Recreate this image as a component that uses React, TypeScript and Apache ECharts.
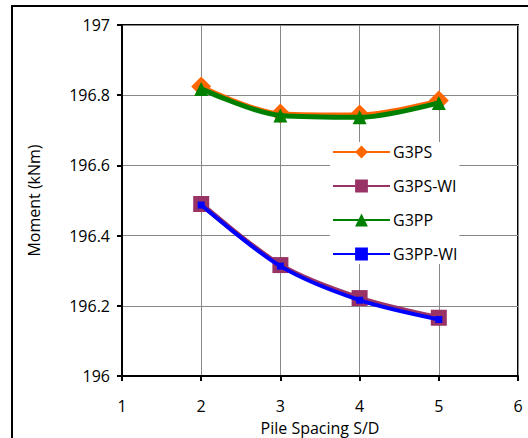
import React, { useEffect, useRef } from "react";
import * as echarts from "echarts";

const xValues = [2, 3, 4, 5];
const g3ps = [196.825, 196.748, 196.745, 196.785];
const g3psWi = [196.49, 196.316, 196.222, 196.166];
const g3pp = [196.818, 196.742, 196.737, 196.778];
const g3ppWi = [196.487, 196.313, 196.216, 196.161];
const seriesNames = ["G3PS", "G3PS-WI", "G3PP", "G3PP-WI"];

const font = "'Open Sans', 'Noto Sans', sans-serif";

export default function App() {
  const ref = useRef<HTMLDivElement>(null);
  useEffect(() => {
    const chart = echarts.init(ref.current!, null, { renderer: "svg" });
    const pts = (ys: number[]) => xValues.map((x, i) => [x, ys[i]]);
    chart.setOption({
      animation: false,
      backgroundColor: "#fff",
      textStyle: { fontFamily: font },
      graphic: [
        {
          type: "rect",
          shape: { x: 12, y: 6, width: 530, height: 450 },
          style: { fill: "none", stroke: "#000", lineWidth: 2 },
          z: 100,
        },
      ],
      grid: {
        left: 122,
        top: 25,
        width: 396,
        height: 351,
        show: true,
        borderColor: "#000",
        borderWidth: 2,
        containLabel: false,
        outerBoundsMode: "none",
      },
      legend: {
        orient: "vertical",
        left: 330,
        top: 142,
        itemWidth: 57,
        itemHeight: 16,
        itemGap: 18,
        backgroundColor: "#fff",
        padding: [2, 2, 2, 2],
        data: seriesNames,
        textStyle: { fontFamily: font, fontSize: 16, color: "#000", padding: [0, 0, 0, -2] },
      },
      xAxis: {
        type: "value",
        min: 1,
        max: 6,
        interval: 1,
        name: "Pile Spacing S/D",
        nameLocation: "middle",
        nameGap: 39,
        nameTextStyle: { fontSize: 16, color: "#000", fontFamily: font, lineHeight: 18 },
        axisLine: { show: true, lineStyle: { color: "#000", width: 2 } },
        axisTick: { show: true, length: 5, lineStyle: { color: "#000", width: 2 } },
        axisLabel: { fontSize: 16, color: "#000", margin: 22, fontFamily: font },
        splitLine: { show: true, lineStyle: { color: "#888", width: 1 } },
      },
      yAxis: {
        type: "value",
        min: 196,
        max: 197,
        interval: 0.2,
        name: "Moment (kNm)",
        nameLocation: "middle",
        nameGap: 80,
        nameTextStyle: { fontSize: 16, color: "#000", fontFamily: font },
        axisLine: { show: true, lineStyle: { color: "#000", width: 2 } },
        axisTick: { show: true, length: 5, lineStyle: { color: "#000", width: 2 } },
        axisLabel: { fontSize: 16, color: "#000", margin: 12, fontFamily: font },
        splitLine: { show: true, lineStyle: { color: "#888", width: 1 } },
      },
      series: [
        {
          name: "G3PS",
          type: "line",
          smooth: 0.3,
          data: pts(g3ps),
          symbol: "diamond",
          symbolSize: 20,
          color: "#FF6600",
          lineStyle: { width: 4, color: "#FF6600" },
          itemStyle: { color: "#FF6600" },
          z: 2,
        },
        {
          name: "G3PS-WI",
          type: "line",
          smooth: 0.3,
          data: pts(g3psWi),
          symbol: "rect",
          symbolSize: 16,
          color: "#993366",
          lineStyle: { width: 5, color: "#993366" },
          itemStyle: { color: "#993366" },
          z: 2,
        },
        {
          name: "G3PP",
          type: "line",
          smooth: 0.3,
          data: pts(g3pp),
          symbol: "triangle",
          symbolSize: 14,
          color: "#008000",
          lineStyle: { width: 5, color: "#008000" },
          itemStyle: { color: "#008000" },
          z: 3,
        },
        {
          name: "G3PP-WI",
          type: "line",
          smooth: 0.3,
          data: pts(g3ppWi),
          symbol: "rect",
          symbolSize: 7,
          color: "#0000FF",
          lineStyle: { width: 4, color: "#0000FF" },
          itemStyle: { color: "#0000FF" },
          z: 3,
        },
      ],
    });
    return () => chart.dispose();
  }, []);
  return <div ref={ref} style={{ width: 528, height: 438, position: "absolute", left: 0, top: 0 }} />;
}
